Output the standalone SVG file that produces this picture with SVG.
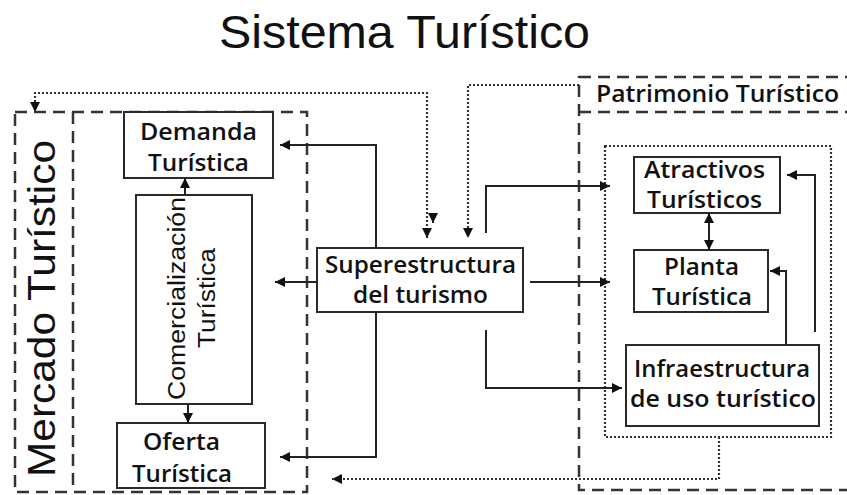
<svg xmlns="http://www.w3.org/2000/svg" width="847" height="495" viewBox="0 0 847 495">
<style>
  .box { fill: #fff; stroke: #2a2a2a; stroke-width: 2; }
  .lbl { font-family: "Open Sans", "Liberation Sans", sans-serif; font-weight: 600; font-size: 23px; fill: #111; text-anchor: middle; }
  .big { font-family: "Liberation Sans", "Open Sans", sans-serif; fill: #111; text-anchor: middle; }
  .rot { font-family: "Liberation Sans", "Open Sans", sans-serif; font-size: 23px; fill: #111; text-anchor: middle; }
  .dash { fill: none; stroke: #333; stroke-width: 2.5; stroke-dasharray: 12 7; }
  .dot { fill: none; stroke: #333; stroke-width: 2.2; stroke-dasharray: 2 2; }
  .conn { fill: none; stroke: #222; stroke-width: 2; }
</style>
<defs>
  <marker id="ah" viewBox="0 0 10 10" refX="10" refY="5" markerWidth="11" markerHeight="10" orient="auto-start-reverse" markerUnits="userSpaceOnUse">
    <path d="M0,0 L10,5 L0,10 z" fill="#111"/>
  </marker>
</defs>
<rect width="847" height="495" fill="#fff"/>

<text id="title" class="big" x="404.5" y="48" font-size="46" textLength="371" lengthAdjust="spacingAndGlyphs">Sistema Turístico</text>

<g id="mercado">
  <rect class="dash" x="15" y="112" width="292" height="380"/>
  <line class="dash" x1="73" y1="112" x2="73" y2="492"/>
  <text class="big" font-size="39" transform="translate(55,308.5) rotate(-90)" textLength="337" lengthAdjust="spacingAndGlyphs">Mercado Turístico</text>
</g>

<g id="patrimonio">
  <rect class="dash" x="579" y="77" width="300" height="413"/>
  <line class="dash" x1="579" y1="112" x2="847" y2="112"/>
  <text class="lbl" x="717.5" y="102" font-size="25" textLength="243" lengthAdjust="spacingAndGlyphs">Patrimonio Turístico</text>
  <rect class="dot" x="605" y="146" width="226" height="291"/>
</g>

<g id="demanda">
  <rect class="box" x="124" y="112" width="149" height="66"/>
  <text class="lbl" x="198.5" y="140" textLength="117" lengthAdjust="spacingAndGlyphs">Demanda</text>
  <text class="lbl" x="198.5" y="171" textLength="101" lengthAdjust="spacingAndGlyphs">Turística</text>
</g>

<g id="comercializacion">
  <rect class="box" x="136" y="195" width="116" height="209"/>
  <text class="rot" transform="translate(185,298.5) rotate(-90)" textLength="203" lengthAdjust="spacingAndGlyphs">Comercialización</text>
  <text class="rot" transform="translate(215,298) rotate(-90)" textLength="100" lengthAdjust="spacingAndGlyphs">Turística</text>
</g>

<g id="oferta">
  <rect class="box" x="117" y="423" width="148" height="65"/>
  <text class="lbl" x="181.5" y="450" textLength="77" lengthAdjust="spacingAndGlyphs">Oferta</text>
  <text class="lbl" x="182" y="482" textLength="100" lengthAdjust="spacingAndGlyphs">Turística</text>
</g>

<g id="superestructura">
  <rect class="box" x="317" y="248" width="206" height="64"/>
  <text class="lbl" x="420.5" y="273" textLength="191" lengthAdjust="spacingAndGlyphs">Superestructura</text>
  <text class="lbl" x="420.5" y="303" textLength="135" lengthAdjust="spacingAndGlyphs">del turismo</text>
</g>

<g id="atractivos">
  <rect class="box" x="634" y="157" width="146" height="56"/>
  <text class="lbl" x="704.5" y="178" textLength="121" lengthAdjust="spacingAndGlyphs">Atractivos</text>
  <text class="lbl" x="704.5" y="208" textLength="115" lengthAdjust="spacingAndGlyphs">Turísticos</text>
</g>

<g id="planta">
  <rect class="box" x="634" y="250" width="134" height="62"/>
  <text class="lbl" x="701.5" y="275" textLength="75" lengthAdjust="spacingAndGlyphs">Planta</text>
  <text class="lbl" x="702" y="305" textLength="100" lengthAdjust="spacingAndGlyphs">Turística</text>
</g>

<g id="infraestructura">
  <rect class="box" x="626" y="345" width="193" height="81"/>
  <text class="lbl" x="722" y="377" textLength="176" lengthAdjust="spacingAndGlyphs">Infraestructura</text>
  <text class="lbl" x="723" y="407" textLength="186" lengthAdjust="spacingAndGlyphs">de uso turístico</text>
</g>

<g id="connectors">
  <polyline class="conn" points="376,248 376,145 280,145" marker-end="url(#ah)"/>
  <polyline class="conn" points="376,312 376,457 280,457" marker-end="url(#ah)"/>
  <polyline class="conn" points="317,282 275,282" marker-end="url(#ah)"/>
  <polyline class="conn" points="486,233 486,186 610,186" marker-end="url(#ah)"/>
  <polyline class="conn" points="530,282 610,282" marker-end="url(#ah)"/>
  <polyline class="conn" points="486,330 486,388 622,388" marker-end="url(#ah)"/>
  <line class="conn" x1="709" y1="213" x2="709" y2="250" marker-start="url(#ah)" marker-end="url(#ah)"/>
  <polyline class="conn" points="786,345 786,271 770,271" marker-end="url(#ah)"/>
  <polyline class="conn" points="815,332 815,175 787,175" marker-end="url(#ah)"/>
  <line class="conn" x1="185" y1="195" x2="185" y2="178" marker-end="url(#ah)"/>
  <line class="conn" x1="188" y1="404" x2="188" y2="423" marker-end="url(#ah)"/>
  <polyline class="dot" points="427,238 427,93 35,93 35,112" marker-start="url(#ah)" marker-end="url(#ah)"/>
  <line class="dot" x1="433" y1="213" x2="433" y2="223" marker-end="url(#ah)"/>
  <polyline class="dot" points="579,85 468,85 468,238" marker-end="url(#ah)"/>
  <polyline class="dot" points="719,437 719,479 332,479" marker-end="url(#ah)"/>
</g>
</svg>
